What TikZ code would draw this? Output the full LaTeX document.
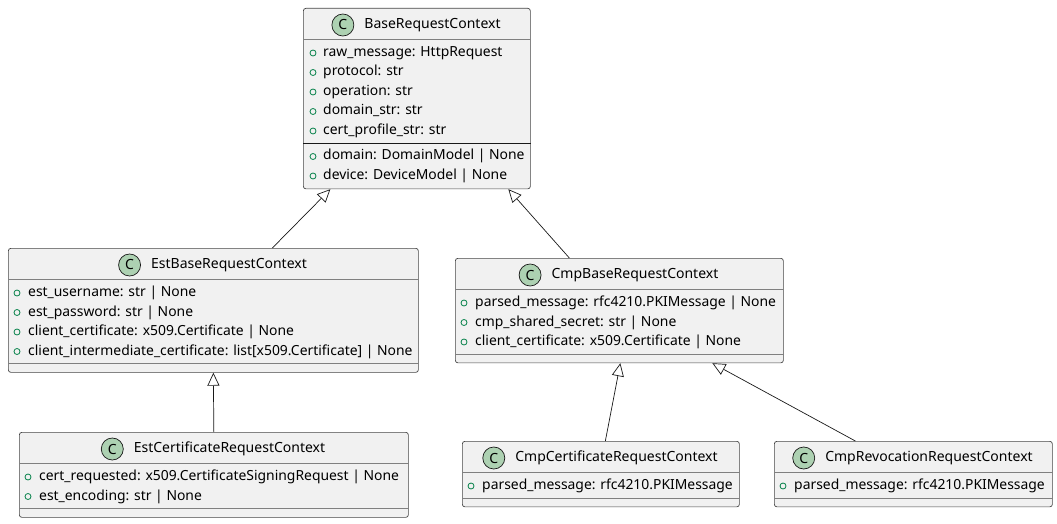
\documentclass[tikz,border=0pt]{standalone}
\usepackage{fontspec}
\setmainfont{Noto Sans}
\usetikzlibrary{arrows.meta, positioning}
\definecolor{clsfill}{HTML}{F1F1F1}
\definecolor{clsline}{HTML}{181818}
\definecolor{iconfill}{HTML}{ADD1B2}
\definecolor{visgreen}{HTML}{038048}

\begin{document}
\begin{tikzpicture}[x=1pt, y=-1pt,
    cls/.style={rectangle, draw=clsline!80, fill=clsfill, rounded corners=2.5pt,
                line width=0.7pt, anchor=north west, inner sep=0pt},
    title/.style={inner sep=0pt, text height=10pt, text depth=3pt,
                  font=\fontsize{14}{16}\selectfont},
    icon/.style={circle, draw=clsline, fill=iconfill, minimum size=22pt,
                 inner sep=0pt, line width=0.7pt, font=\bfseries\fontsize{14}{16}\selectfont},
    attr/.style={anchor=west, inner sep=0pt, text height=10pt, text depth=3pt,
                 font=\fontsize{13.9}{16}\selectfont},
    vis/.style={draw=visgreen, line width=0.8pt},
    sep/.style={draw=clsline!55, line width=0.7pt},
    inherit/.style={-{Triangle[fill=white, length=13pt, width=12pt]},
                    draw=clsline, line width=0.7pt},
]
\useasboundingbox (0,0) rectangle (1057,524);

\node[cls, minimum width=227pt, minimum height=180.5pt] (base)    at (303,8)   {};
\node[cls, minimum width=410pt, minimum height=124pt]   (estbase) at (8,248)   {};
\node[cls, minimum width=328pt, minimum height=104.5pt] (cmpbase) at (455,258) {};
\node[cls, minimum width=389pt, minimum height=85pt]    (estcert) at (19,432)  {};
\node[cls, minimum width=277pt, minimum height=65.5pt]  (cmpcert) at (462,441) {};
\node[cls, minimum width=278pt, minimum height=65.5pt]  (cmprev)  at (774,441) {};

\node[title] (baseT)    at (432.5,25) {BaseRequestContext};
\node[title] (estbaseT) at (229,265)  {EstBaseRequestContext};
\node[title] (cmpbaseT) at (635,275)  {CmpBaseRequestContext};
\node[title] (estcertT) at (229.5,449) {EstCertificateRequestContext};
\node[title] (cmpcertT) at (616.5,458) {CmpCertificateRequestContext};
\node[title] (cmprevT)  at (929,458)  {CmpRevocationRequestContext};

\foreach \c in {base, estbase, cmpbase, estcert, cmpcert, cmprev} {
  \node[icon, left=10pt of \c T] (\c I) {C};
  \draw[sep] ([yshift=-31pt]\c.north west) -- ([yshift=-31pt]\c.north east);
}
\foreach \c in {estbase, cmpbase, estcert, cmpcert, cmprev}
  \draw[sep] ([yshift=9pt]\c.south west) -- ([yshift=9pt]\c.south east);
\draw[draw=clsline, line width=0.8pt] ([yshift=46pt]base.south west) -- ([yshift=46pt]base.south east);

\foreach \txt [count=\i] in {raw\_message: HttpRequest, protocol: str, operation: str,
                             domain\_str: str, cert\_profile\_str: str} {
  \draw[vis] (313,{33.5+19.5*\i}) circle (3);
  \node[attr] (base-a\i) at (323,{33.5+19.5*\i}) {\txt};
}
\foreach \txt [count=\i] in {domain: DomainModel | None, device: DeviceModel | None} {
  \draw[vis] (313,{137+19.5*\i}) circle (3);
  \node[attr] (base-m\i) at (323,{137+19.5*\i}) {\txt};
}
\foreach \txt [count=\i] in {est\_username: str | None, est\_password: str | None,
                             client\_certificate: x509.Certificate | None,
                             client\_intermediate\_certificate: list[x509.Certificate] | None} {
  \draw[vis] (17,{273.5+19.5*\i}) circle (3);
  \node[attr] (estbase-a\i) at (28,{273.5+19.5*\i}) {\txt};
}
\foreach \txt [count=\i] in {parsed\_message: rfc4210.PKIMessage | None,
                             cmp\_shared\_secret: str | None,
                             client\_certificate: x509.Certificate | None} {
  \draw[vis] (464,{283.5+19.5*\i}) circle (3);
  \node[attr] (cmpbase-a\i) at (475,{283.5+19.5*\i}) {\txt};
}
\foreach \txt [count=\i] in {cert\_requested: x509.CertificateSigningRequest | None,
                             est\_encoding: str | None} {
  \draw[vis] (28,{457.5+19.5*\i}) circle (3);
  \node[attr] (estcert-a\i) at (39,{457.5+19.5*\i}) {\txt};
}
\draw[vis] (471,486) circle (3);
\node[attr] (cmpcert-a1) at (482,486) {parsed\_message: rfc4210.PKIMessage};
\draw[vis] (783,486) circle (3);
\node[attr] (cmprev-a1) at (794,486) {parsed\_message: rfc4210.PKIMessage};

\draw[inherit] ([xshift=59pt]estbase.north) -- ([xshift=-86.5pt]base.south);
\draw[inherit] ([xshift=-50pt]cmpbase.north) -- ([xshift=91.5pt]base.south);
\draw[inherit] (estcert.north) -- (estbase.south);
\draw[inherit] ([xshift=4.5pt]cmpcert.north) -- ([xshift=1pt]cmpbase.south);
\draw[inherit] ([xshift=-58pt]cmprev.north) -- ([xshift=93pt]cmpbase.south);
\end{tikzpicture}
\end{document}
